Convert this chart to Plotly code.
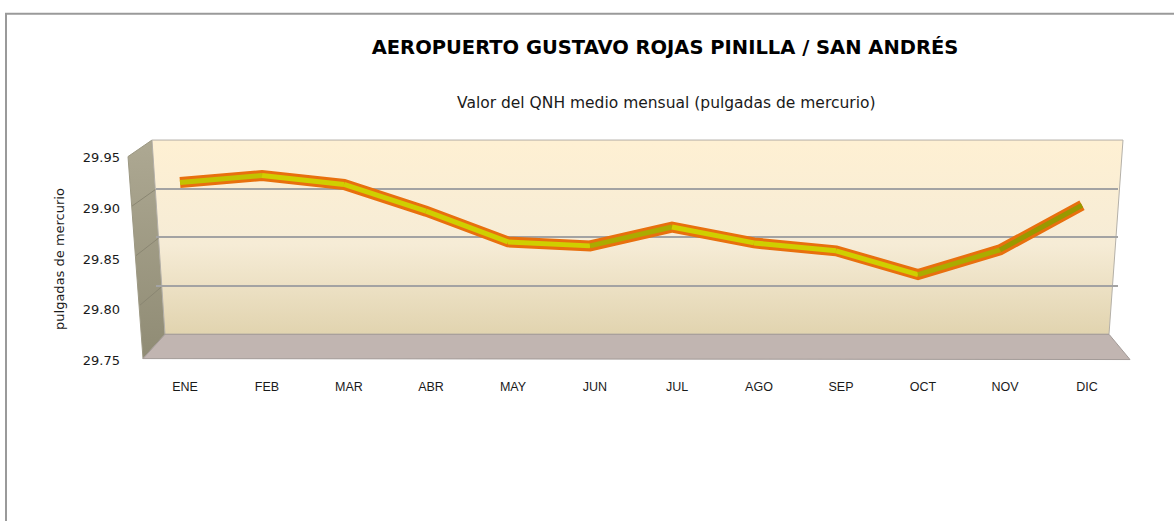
import plotly.graph_objects as go

# ---------------- data ----------------
months = ["ENE", "FEB", "MAR", "ABR", "MAY", "JUN", "JUL", "AGO", "SEP", "OCT", "NOV", "DIC"]
qnh = [29.916, 29.923, 29.914, 29.887, 29.856, 29.852, 29.871, 29.855, 29.847, 29.823, 29.848, 29.893]
y_tickvals = [29.75, 29.80, 29.85, 29.90, 29.95]
y_ticktext = ["29.75", "29.80", "29.85", "29.90", "29.95"]
title_text = "AEROPUERTO GUSTAVO ROJAS PINILLA / SAN ANDRÉS"
subtitle_text = "Valor del QNH medio mensual (pulgadas de mercurio)"
y_title = "pulgadas de mercurio"

W, H = 1174, 521


def px(x):
    return x / W


def py(y):
    return 1 - y / H


fig = go.Figure()

# ---------- decoration: 3D walls drawn on a pixel overlay axis ----------
# left wall
fig.add_trace(go.Scatter(
    x=[128, 152, 165, 143, 128], y=[154, 137, 337, 362, 154],
    fill="toself", mode="lines", line=dict(color="#9C9883", width=1),
    fillgradient=dict(type="vertical", start=137, stop=362,
                      colorscale=[[0, "#ADA892"], [1, "#8E8A73"]]),
    hoverinfo="skip", showlegend=False, xaxis="x", yaxis="y"))
# back wall
fig.add_trace(go.Scatter(
    x=[152, 1123, 1109, 165, 152], y=[137, 137, 337, 337, 137],
    fill="toself", mode="lines", line=dict(color="#B4B0A8", width=1),
    fillgradient=dict(type="vertical", start=137, stop=337,
                      colorscale=[[0, "#FEF0D3"], [0.5, "#F6ECD6"], [1, "#DFD1AB"]]),
    hoverinfo="skip", showlegend=False, xaxis="x", yaxis="y"))
# floor
fig.add_trace(go.Scatter(
    x=[165, 1109, 1130, 143, 165], y=[337, 337, 363, 362, 337],
    fill="toself", mode="lines", line=dict(color="#A39B98", width=1),
    fillcolor="#C1B5B1",
    hoverinfo="skip", showlegend=False, xaxis="x", yaxis="y"))
# grid lines continuing on left wall
fig.add_trace(go.Scatter(
    x=[155.3, 132, None, 158.5, 136, None, 161.7, 140],
    y=[188, 205, None, 238, 256, None, 288, 307],
    mode="lines", line=dict(color="#8A8672", width=1),
    hoverinfo="skip", showlegend=False, xaxis="x", yaxis="y"))

# ---------- back-wall grid axis ----------
fig.add_trace(go.Scatter(x=[0], y=[29.85], mode="markers", marker=dict(opacity=0),
                         hoverinfo="skip", showlegend=False, xaxis="x2", yaxis="y2"))

# ---------- series (3D-looking ribbon) ----------
fig.add_trace(go.Scatter(x=months, y=qnh, mode="lines",
                         line=dict(color="#E8700E", width=11),
                         hoverinfo="skip", showlegend=False, xaxis="x3", yaxis="y3"))
for i in range(len(months) - 1):
    d = qnh[i + 1] - qnh[i]
    if d <= 0:
        col = "#CFCF00"
    elif d < 0.01:
        col = "#C2C200"
    elif d < 0.03:
        col = "#ABAB00"
    else:
        col = "#999900"
    fig.add_trace(go.Scatter(x=[months[i], months[i + 1]], y=[qnh[i], qnh[i + 1]],
                             mode="lines", line=dict(color=col, width=5),
                             hoverinfo="skip", showlegend=False, xaxis="x3", yaxis="y3"))

# ---------- front-plane tick labels axis ----------
fig.add_trace(go.Scatter(x=[months[0]], y=[29.85], mode="markers", marker=dict(opacity=0),
                         hoverinfo="skip", showlegend=False, xaxis="x3", yaxis="y4"))

fig.update_layout(
    width=W, height=H,
    margin=dict(l=0, r=0, t=0, b=0),
    paper_bgcolor="white", plot_bgcolor="rgba(0,0,0,0)",
    font=dict(family="DejaVu Sans, sans-serif", color="#1a1a1a"),
    title=dict(text="<b>" + title_text + "</b>", x=px(665), y=py(47),
               xanchor="center", yanchor="middle",
               font=dict(family="DejaVu Sans, sans-serif", size=19.5, color="black")),
    xaxis=dict(domain=[0, 1], range=[0, W], visible=False, fixedrange=True),
    yaxis=dict(domain=[0, 1], range=[H, 0], visible=False, fixedrange=True),
    xaxis2=dict(domain=[px(156), px(1118)], range=[0, 1], visible=False, anchor="y2"),
    yaxis2=dict(domain=[py(337), py(137)], range=[29.75, 29.95], tickvals=y_tickvals,
                showgrid=True, gridcolor="#A3A3A3", gridwidth=1.5, showticklabels=False,
                zeroline=False, ticks="", showline=False, anchor="x2"),
    xaxis3=dict(domain=[px(139), px(1123)], type="category", categoryorder="array",
                categoryarray=months, range=[-0.5, 11.5], showgrid=False, zeroline=False,
                showline=False, ticks="", tickfont=dict(family="Liberation Sans, sans-serif",
                                                        size=12.5, color="#1a1a1a"),
                ticklabelstandoff=31, ticklabelshift=5, anchor="y3"),
    yaxis3=dict(domain=[py(350), py(146)], range=[29.75, 29.95], visible=False, anchor="x3"),
    yaxis4=dict(domain=[py(364), py(155)], range=[29.75, 29.95], anchor="free",
                position=px(120), side="left", tickvals=y_tickvals, ticktext=y_ticktext,
                showgrid=False, zeroline=False, showline=False, ticks="",
                tickfont=dict(size=13, color="#1a1a1a"),
                title=dict(text=y_title, font=dict(size=13, color="#1a1a1a"), standoff=14)),
    annotations=[dict(text=subtitle_text, x=px(666), y=py(99), xref="paper", yref="paper",
                      xanchor="center", yanchor="middle", showarrow=False,
                      font=dict(size=15.5, color="#1a1a1a"))],
    shapes=[dict(type="rect", xref="paper", yref="paper", x0=px(6), x1=1.05, y0=-0.05, y1=py(7),
                 line=dict(color="#9A9A9A", width=2), fillcolor="rgba(0,0,0,0)", layer="below")],
)

fig.write_html("out.html", config={"displayModeBar": False},
               post_script="document.body.style.margin='0';")
